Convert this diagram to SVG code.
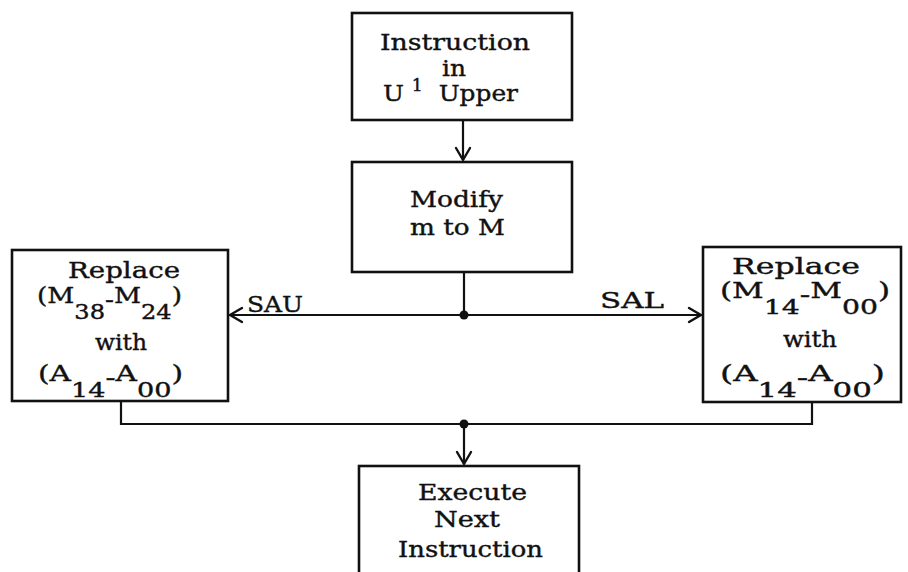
<svg xmlns="http://www.w3.org/2000/svg" width="908" height="572" viewBox="0 0 908 572">
<style>
.box{fill:#fff;stroke:#111;stroke-width:2.6}
.ln{fill:none;stroke:#111;stroke-width:2.2}
.ah{fill:none;stroke:#111;stroke-width:2.4;stroke-linecap:round;stroke-linejoin:round}
.t{font-family:"DejaVu Serif","Liberation Serif",serif;font-size:23px;fill:#111;stroke:#111;stroke-width:0.4}
.s{font-size:21px}
.p{font-size:16px}
</style>
<rect width="908" height="572" fill="#fff"/>
<g id="connectors">
<line class="ln" x1="463" y1="120" x2="463" y2="160"/>
<polyline class="ah" points="456,148 463,160 470,148"/>
<line class="ln" x1="464" y1="272" x2="464" y2="315"/>
<line class="ln" x1="229" y1="315" x2="702" y2="315"/>
<polyline class="ah" points="242,308 230,315 242,322"/>
<polyline class="ah" points="689,308 701,315 689,322"/>
<circle cx="464" cy="315" r="4.5" fill="#111"/>
<polyline class="ln" points="121,401 121,424 812,424 812,402"/>
<circle cx="464" cy="424" r="4.5" fill="#111"/>
<line class="ln" x1="464" y1="424" x2="464" y2="464"/>
<polyline class="ah" points="457,452 464,464 471,452"/>
<text class="t" x="247" y="312" textLength="56" lengthAdjust="spacingAndGlyphs">SAU</text>
<text class="t" x="600" y="308" textLength="64" lengthAdjust="spacingAndGlyphs">SAL</text>
</g>
<g id="n1">
<rect class="box" x="352" y="13" width="220" height="107"/>
<text class="t" x="380" y="50" textLength="150" lengthAdjust="spacingAndGlyphs">Instruction</text>
<text class="t" x="442" y="76" textLength="24" lengthAdjust="spacingAndGlyphs">in</text>
<text class="t" x="383" y="101" textLength="135" lengthAdjust="spacingAndGlyphs">U&#160;<tspan class="p" dy="-10">1</tspan><tspan dy="10">&#160;&#160;Upper</tspan></text>
</g>
<g id="n2">
<rect class="box" x="352" y="162" width="220" height="110"/>
<text class="t" x="410" y="207" textLength="93" lengthAdjust="spacingAndGlyphs">Modify</text>
<text class="t" x="410" y="235" textLength="95" lengthAdjust="spacingAndGlyphs">m to M</text>
</g>
<g id="n3">
<rect class="box" x="12" y="250" width="216" height="151"/>
<text class="t" x="68" y="278" textLength="112" lengthAdjust="spacingAndGlyphs">Replace</text>
<text class="t" x="37" y="303" textLength="145" lengthAdjust="spacingAndGlyphs">(M<tspan class="s" dy="16">38</tspan><tspan dy="-12">-</tspan><tspan dy="-4">M</tspan><tspan class="s" dy="16">24</tspan><tspan dy="-16">)</tspan></text>
<text class="t" x="95" y="350" textLength="52" lengthAdjust="spacingAndGlyphs">with</text>
<text class="t" x="38" y="381" textLength="145" lengthAdjust="spacingAndGlyphs">(A<tspan class="s" dy="16">14</tspan><tspan dy="-12">-</tspan><tspan dy="-4">A</tspan><tspan class="s" dy="16">00</tspan><tspan dy="-16">)</tspan></text>
</g>
<g id="n4">
<rect class="box" x="703" y="247" width="198" height="155"/>
<text class="t" x="732" y="274" textLength="128" lengthAdjust="spacingAndGlyphs">Replace</text>
<text class="t" x="720" y="298" textLength="170" lengthAdjust="spacingAndGlyphs">(M<tspan class="s" dy="16">14</tspan><tspan dy="-12">-</tspan><tspan dy="-4">M</tspan><tspan class="s" dy="16">00</tspan><tspan dy="-16">)</tspan></text>
<text class="t" x="783" y="347" textLength="54" lengthAdjust="spacingAndGlyphs">with</text>
<text class="t" x="720" y="381" textLength="165" lengthAdjust="spacingAndGlyphs">(A<tspan class="s" dy="16">14</tspan><tspan dy="-12">-</tspan><tspan dy="-4">A</tspan><tspan class="s" dy="16">00</tspan><tspan dy="-16">)</tspan></text>
</g>
<g id="n5">
<rect class="box" x="359" y="466" width="220" height="120"/>
<text class="t" x="418" y="500" textLength="109" lengthAdjust="spacingAndGlyphs">Execute</text>
<text class="t" x="434" y="527" textLength="66" lengthAdjust="spacingAndGlyphs">Next</text>
<text class="t" x="398" y="557" textLength="145" lengthAdjust="spacingAndGlyphs">Instruction</text>
</g>
</svg>
